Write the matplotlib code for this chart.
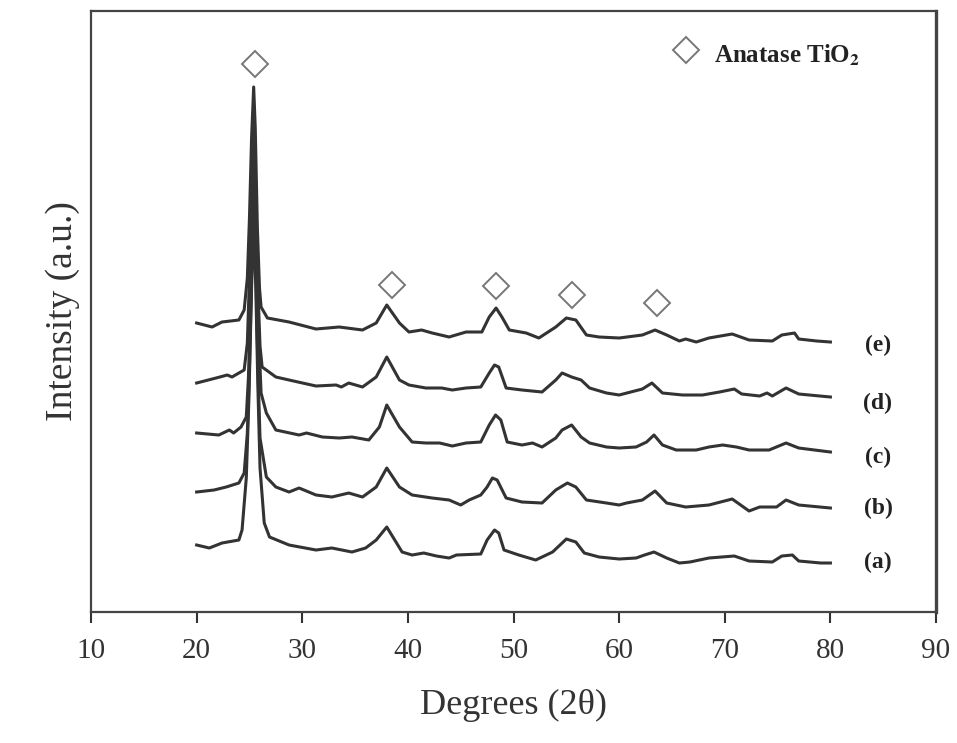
import matplotlib
matplotlib.use("Agg")
import matplotlib.pyplot as plt

plt.rcParams['font.family'] = ['Liberation Serif', 'DejaVu Serif']
plt.rcParams['mathtext.fontset'] = 'stix'

# XRD patterns, intensity in a.u. (already stacked as in the figure)
x_a = [20.0, 21.2, 22.4, 24.0, 24.3, 24.7, 24.95, 25.2, 25.4, 25.6, 25.8, 26.0, 26.4, 26.9,
       28.75, 31.3, 32.8, 34.7, 36.0, 37.0, 38.0, 39.45, 40.4, 41.5, 42.7, 43.9, 44.6, 46.9,
       47.5, 48.2, 48.6, 49.1, 50.5, 52.1, 53.7, 55.0, 55.9, 56.7, 58.1, 60.0, 61.6, 62.4,
       63.3, 64.5, 65.7, 66.7, 68.5, 70.9, 72.3, 74.5, 75.4, 76.4, 77.0, 79.1, 80.0]
y_a = [63, 60, 65, 68, 78, 130, 210, 320, 390, 320, 220, 140, 85, 71,
       63, 58, 60, 56, 60, 68, 81, 56, 53, 55, 52, 50, 53, 54,
       68, 78, 75, 58, 53, 48, 56, 69, 66, 55, 51, 49, 50, 53,
       56, 50, 45, 46, 50, 52, 47, 46, 52, 53, 47, 45, 45]

x_b = [20.0, 21.65, 22.8, 24.0, 24.5, 24.8, 25.0, 25.2, 25.4, 25.6, 25.8, 26.0, 26.6, 27.5,
       28.75, 29.7, 31.3, 32.8, 34.4, 35.7, 37.0, 38.0, 39.2, 40.4, 42.3, 43.9, 45.0, 45.8,
       46.9, 47.5, 48.0, 48.45, 49.3, 50.8, 52.7, 54.0, 55.1, 55.9, 56.9, 58.8, 60.0, 60.7,
       62.2, 63.4, 64.5, 66.3, 68.5, 70.7, 72.3, 73.3, 74.9, 75.8, 77.0, 80.0]
y_b = [116, 118, 121, 125, 135, 175, 240, 330, 410, 340, 240, 170, 131, 121,
       116, 120, 113, 111, 115, 111, 121, 140, 121, 113, 110, 108, 103, 108,
       113, 121, 130, 128, 110, 106, 105, 118, 125, 121, 108, 105, 103, 105,
       108, 117, 105, 101, 103, 109, 97, 101, 101, 108, 103, 100]

x_c = [20.0, 22.1, 23.1, 23.5, 24.2, 24.7, 24.9, 25.1, 25.3, 25.45, 25.65, 25.85, 26.1, 26.6,
       27.5, 29.7, 30.4, 31.9, 33.5, 34.7, 36.3, 37.3, 38.0, 39.2, 40.4, 41.7, 43.0, 44.2,
       45.5, 46.9, 47.7, 48.3, 48.8, 49.4, 50.8, 51.8, 52.7, 54.0, 54.6, 55.5, 56.4, 57.2,
       58.8, 60.0, 61.6, 62.6, 63.3, 64.1, 65.4, 67.3, 68.5, 69.8, 71.1, 72.3, 74.2, 75.8,
       77.0, 80.0]
y_c = [175, 173, 178, 175, 181, 191, 230, 300, 400, 450, 380, 280, 215, 195,
       178, 173, 175, 171, 170, 171, 168, 181, 203, 181, 166, 165, 165, 162,
       165, 166, 183, 193, 188, 166, 163, 165, 161, 170, 178, 183, 171, 165,
       161, 160, 161, 166, 173, 163, 158, 158, 161, 163, 161, 158, 158, 165,
       160, 156]

x_d = [20.0, 21.84, 22.9, 23.35, 24.0, 24.5, 24.8, 25.0, 25.2, 25.4, 25.6, 25.8, 26.0, 26.2,
       27.5, 28.75, 31.3, 33.2, 33.7, 34.4, 35.7, 37.0, 38.0, 39.2, 40.1, 41.7, 43.2, 44.2,
       45.5, 46.9, 47.7, 48.2, 48.6, 49.3, 50.8, 52.7, 54.0, 54.6, 55.5, 56.4, 57.2, 58.8,
       60.0, 62.2, 63.1, 64.1, 66.0, 67.9, 69.5, 70.9, 71.6, 73.3, 74.0, 74.5, 75.8, 77.0,
       80.0]
y_d = [225, 230, 233, 231, 235, 238, 265, 330, 420, 480, 420, 320, 262, 241,
       231, 228, 222, 223, 221, 225, 221, 231, 251, 228, 223, 220, 220, 218,
       220, 221, 235, 243, 241, 220, 218, 216, 228, 235, 231, 228, 220, 215,
       213, 219, 225, 215, 213, 213, 216, 219, 214, 212, 215, 212, 220, 214,
       211]

x_e = [20.0, 21.46, 22.4, 24.0, 24.5, 24.8, 25.0, 25.2, 25.4, 25.55, 25.75, 25.95, 26.1, 26.7,
       28.75, 31.3, 33.5, 35.7, 37.0, 38.0, 39.2, 40.1, 41.3, 42.3, 43.9, 45.5, 47.0, 47.7,
       48.35, 48.9, 49.6, 51.2, 52.4, 54.0, 55.0, 55.9, 56.9, 58.1, 60.0, 62.2, 63.4, 64.5,
       65.7, 66.3, 67.3, 68.5, 70.7, 72.3, 74.5, 75.4, 76.6, 77.0, 78.7, 80.0]
y_e = [285, 281, 286, 288, 298, 330, 390, 470, 521, 480, 380, 320, 301, 290,
       286, 279, 281, 278, 285, 303, 285, 276, 278, 275, 271, 276, 276, 291,
       300, 291, 278, 275, 270, 281, 290, 288, 273, 271, 270, 273, 278, 273,
       267, 269, 266, 270, 274, 268, 267, 273, 275, 269, 267, 266]

series = [(x_a, y_a), (x_b, y_b), (x_c, y_c), (x_d, y_d), (x_e, y_e)]
labels = ['(a)', '(b)', '(c)', '(d)', '(e)']
label_y = [46, 100, 151, 205, 263]

# anatase reflections marked with diamonds
peak_x = [25.5, 38.5, 48.3, 55.5, 63.6]
peak_y = [544, 323, 322, 313, 305]

fig = plt.figure(figsize=(9.57, 7.43), dpi=100)
ax = fig.add_axes([0.0951, 0.1763, 0.883, 0.8089])

for (xs, ys) in series:
    ax.plot(xs, ys, color='#333333', lw=2.2, solid_joinstyle='round')

for lab, ly in zip(labels, label_y):
    ax.text(84.5, ly, lab, fontsize=17, fontweight='bold', ha='center', va='center',
            color='#222222')

ax.plot(peak_x, peak_y, 'D', ms=13, mfc='white', mec='#777777', mew=1.4, ls='none')

# legend entry
ax.plot([66.3], [558], 'D', ms=13, mfc='white', mec='#777777', mew=1.4)
ax.text(69.0, 553, r'Anatase TiO$_{\mathbf{2}}$', fontsize=18, fontweight='bold',
        ha='left', va='center', color='#222222')

ax.set_xlim(10, 90)
ax.set_ylim(-4, 597)
ax.set_xticks(range(10, 91, 10))
ax.set_yticks([])
ax.tick_params(axis='x', direction='out', length=8, width=1.5, pad=11,
               labelsize=21, colors='#333333')
for s in ax.spines.values():
    s.set_color('#444444')
    s.set_linewidth(1.6)
ax.spines['right'].set_linewidth(2.4)

ax.set_xlabel('Degrees (2\u03b8)', fontsize=26, color='#333333', labelpad=18)
ax.set_ylabel('Intensity (a.u.)', fontsize=27, color='#333333', labelpad=8)

fig.savefig('out.png', dpi=100)
